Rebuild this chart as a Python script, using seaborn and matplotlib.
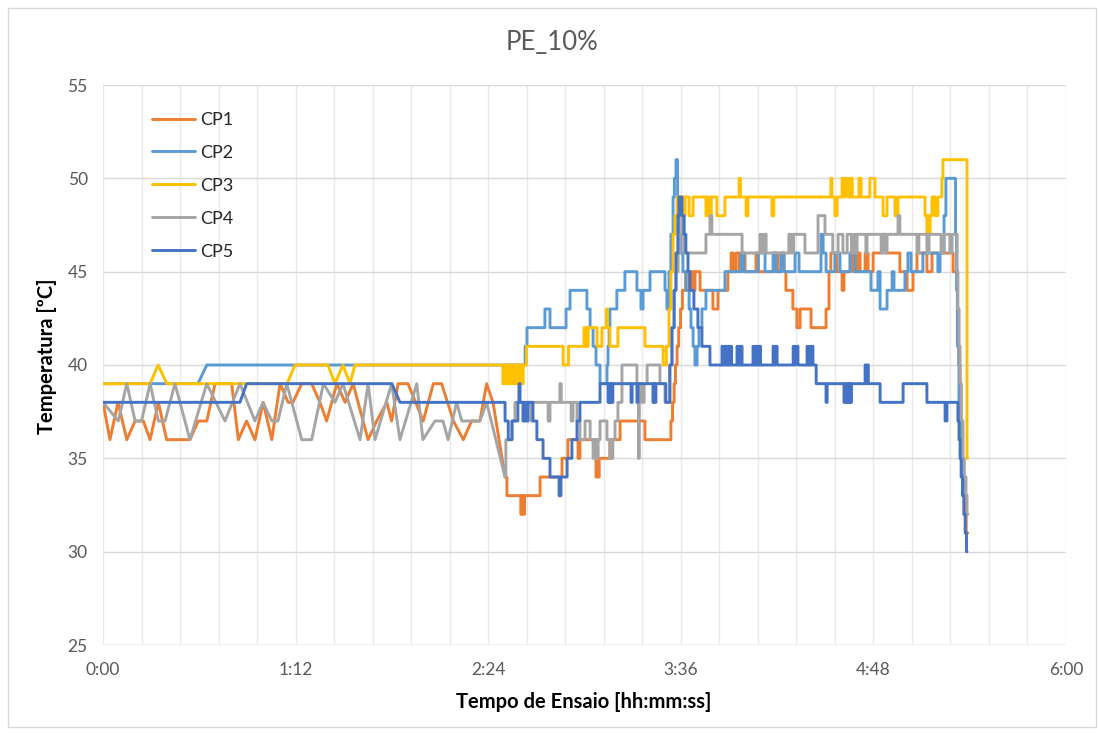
import matplotlib
matplotlib.use("Agg")
import matplotlib.pyplot as plt
from matplotlib.patches import Rectangle
import numpy as np
import seaborn as sns

# ---------------------------------------------------------------
# Data (time in minutes since start of the test, temperature in ºC)
# Slow-logging phase: vertices joined by straight lines
# Fast-logging phase: (time, value) change points drawn as steps
# ---------------------------------------------------------------
series_names = ["CP1", "CP2", "CP3", "CP4", "CP5"]
series_colors = ["#ED7D31", "#5B9BD5", "#FFC000", "#A5A5A5", "#4472C4"]

x_tick_minutes = [0, 72, 144, 216, 288, 360]
x_tick_labels = ["0:00", "1:12", "2:24", "3:36", "4:48", "6:00"]
y_ticks = [25, 30, 35, 40, 45, 50, 55]

cp1_slow = [(0, 38), (2.6, 36), (5.6, 38), (8.9, 36), (12.0, 37), (15.1, 37), (17.6, 36),
            (20.7, 38), (23.8, 36), (32.5, 36), (35.6, 37), (38.8, 37), (41.9, 39), (48.1, 39),
            (50.6, 36), (53.7, 37), (56.8, 36), (59.9, 38), (63.1, 36), (66.2, 39), (69.2, 38),
            (71.0, 38), (74.3, 39), (78.0, 39), (81.1, 38), (83.6, 37), (87.4, 39), (90.5, 38),
            (93.5, 39), (99.1, 36), (102.3, 37), (106.1, 38), (107.9, 37), (110.3, 39), (114.0, 39),
            (119.7, 37), (123.5, 39), (126.6, 39), (131.0, 37), (134.7, 36), (137.8, 37), (140.9, 37),
            (143.4, 39), (145.8, 38), (150.3, 34)]
cp1_fast = [(150.3, 34), (151.0, 33), (156.2, 32), (156.6, 33), (157.2, 32), (157.6, 33), (163.4, 34),
            (171.6, 35), (173.8, 36), (177.6, 35), (178.3, 36), (183.9, 35), (184.3, 34), (184.7, 35),
            (185.1, 34), (185.5, 35), (189.5, 36), (193.3, 37), (202.6, 36), (212.3, 37), (212.9, 38),
            (213.5, 39), (214.0, 40), (214.6, 41), (215.2, 42), (215.9, 43), (216.6, 44), (217.8, 45),
            (219.1, 44), (219.8, 45), (220.6, 44), (221.3, 45), (223.2, 44), (228.0, 43), (229.9, 44),
            (233.6, 45), (234.8, 46), (235.5, 45), (236.6, 46), (237.8, 45), (238.9, 46), (240.0, 45),
            (244.1, 46), (244.9, 45), (251.2, 46), (252.3, 45), (253.5, 46), (254.6, 45), (255.3, 44),
            (257.9, 43), (259.4, 42), (260.6, 43), (264.7, 42), (270.3, 43), (271.4, 45), (272.1, 46),
            (274.4, 45), (276.3, 44), (277.0, 45), (279.3, 46), (280.4, 45), (281.9, 46), (283.0, 45),
            (284.9, 46), (286.0, 45), (287.9, 46), (291.2, 47), (292.7, 46), (297.9, 45), (300.6, 44),
            (302.8, 45), (304.3, 46), (308.0, 45), (309.9, 46), (317.8, 45), (319.4, 43), (319.9, 40),
            (320.4, 37), (320.9, 35), (321.5, 33), (322.1, 32), (322.7, 31), (323.3, 31)]

cp2_slow = [(0, 39), (35.5, 39), (38.8, 40), (148.4, 40)]
cp2_fast = [(148.4, 40), (157.8, 41), (158.5, 42), (165.2, 43), (167.1, 42), (173.1, 43), (174.6, 44),
            (180.9, 43), (182.1, 42), (183.2, 41), (184.3, 40), (185.8, 39), (188.4, 40), (188.8, 41),
            (189.2, 42), (189.5, 43), (192.1, 44), (195.1, 45), (199.6, 44), (201.1, 43), (201.9, 44),
            (204.5, 45), (210.1, 44), (210.8, 43), (211.6, 45), (212.3, 47), (213.1, 49), (213.6, 50),
            (214.2, 51), (214.8, 49), (215.3, 47), (216.1, 46), (216.8, 45), (218.0, 44), (219.1, 43),
            (219.8, 42), (220.6, 41), (221.3, 40), (222.1, 41), (222.8, 42), (223.9, 43), (225.4, 44),
            (232.5, 45), (238.5, 46), (239.6, 45), (245.0, 46), (247.5, 45), (250.5, 46), (251.6, 45),
            (253.5, 46), (254.6, 45), (258.7, 46), (260.2, 45), (268.4, 47), (269.2, 46), (270.3, 45),
            (273.6, 46), (275.5, 45), (279.3, 46), (281.1, 45), (287.1, 44), (289.7, 45), (290.5, 43),
            (293.1, 44), (295.0, 45), (295.7, 44), (299.8, 45), (300.9, 46), (302.1, 45), (306.5, 46),
            (312.1, 45), (312.9, 46), (314.4, 48), (315.1, 50), (318.7, 47), (319.1, 44), (319.4, 41),
            (320.0, 38), (320.6, 36), (321.1, 34), (321.9, 33), (322.4, 33)]

cp3_slow = [(0, 39), (17.6, 39), (20.6, 40), (23.9, 39), (68.8, 39), (71.8, 40), (84.1, 40),
            (86.7, 39), (89.7, 40), (92.3, 39), (94.2, 40), (149.5, 40)]
cp3_fast = [(149.5, 39), (149.9, 40), (150.4, 39), (150.8, 40), (151.3, 39), (151.7, 40), (152.2, 39),
            (152.6, 40), (153.1, 39), (153.5, 40), (154.0, 39), (154.4, 40), (154.9, 39), (155.3, 40),
            (155.8, 39), (156.2, 40), (156.7, 39), (157.1, 40), (158.3, 41), (172.0, 40), (174.0, 41),
            (179.8, 42), (180.2, 41), (180.6, 42), (181.0, 41), (181.4, 42), (184.7, 41), (186.5, 42),
            (188.2, 43), (188.6, 42), (189.5, 41), (192.5, 42), (202.6, 41), (209.4, 40), (210.6, 41),
            (211.6, 43), (212.3, 45), (213.1, 47), (213.8, 48), (214.6, 49), (216.4, 48), (216.8, 49),
            (217.2, 48), (217.6, 49), (219.1, 48), (220.6, 49), (225.4, 48), (225.8, 49), (226.2, 48),
            (226.6, 49), (227.0, 48), (227.4, 49), (229.5, 48), (232.5, 49), (237.8, 50), (238.3, 49),
            (240.4, 48), (241.1, 49), (250.1, 48), (250.8, 49), (272.1, 50), (272.5, 49), (273.6, 48),
            (274.4, 49), (276.3, 50), (276.8, 49), (277.4, 50), (278.5, 49), (279.3, 50), (280.1, 49),
            (282.6, 50), (283.4, 49), (286.7, 50), (288.6, 49), (291.6, 48), (293.1, 49), (296.1, 48),
            (297.2, 49), (307.3, 48), (308.0, 47), (308.4, 48), (308.8, 47), (309.2, 48), (309.9, 49),
            (311.0, 48), (312.1, 49), (313.6, 50), (314.0, 51), (323.0, 35), (323.2, 35)]

cp4_slow = [(0, 38), (5.7, 37), (8.9, 39), (12.0, 37), (14.4, 37), (17.6, 39), (20.7, 37), (23.2, 37),
            (26.9, 39), (32.5, 36), (38.8, 39), (45.6, 37), (51.2, 39), (56.8, 37), (59.8, 38),
            (63.1, 37), (65.4, 37), (68.7, 39), (74.3, 36), (78.0, 36), (82.4, 39), (86.7, 38),
            (89.7, 39), (96.1, 36), (99.1, 39), (101.7, 36), (107.9, 39), (111.0, 36), (117.3, 39),
            (119.6, 36), (124.1, 37), (127.1, 37), (129.0, 36), (132.2, 38), (134.1, 37), (137.2, 37),
            (140.9, 37), (143.4, 38), (150.3, 34)]
cp4_fast = [(150.3, 34), (150.6, 36), (152.9, 37), (154.0, 38), (160.0, 37), (160.7, 38), (166.4, 37),
            (167.1, 38), (170.8, 39), (171.3, 38), (175.0, 37), (175.7, 38), (177.2, 37), (178.3, 36),
            (180.2, 37), (182.1, 36), (183.2, 35), (183.6, 36), (184.0, 35), (184.3, 36), (184.7, 35),
            (185.1, 36), (185.8, 37), (188.4, 36), (189.5, 35), (189.9, 36), (190.3, 35), (190.6, 36),
            (191.4, 37), (192.5, 38), (194.0, 40), (199.6, 39), (200.2, 35), (200.5, 39), (201.5, 38),
            (202.3, 39), (203.4, 40), (208.2, 39), (210.1, 38), (211.9, 40), (212.7, 42), (213.5, 44),
            (214.2, 45), (215.0, 46), (215.7, 47), (216.4, 48), (217.2, 46), (225.4, 47), (226.9, 48),
            (227.6, 47), (238.9, 46), (245.6, 47), (246.4, 46), (247.1, 47), (247.9, 46), (256.4, 47),
            (256.8, 46), (257.3, 47), (257.7, 46), (258.2, 47), (262.4, 46), (267.3, 48), (269.9, 47),
            (272.8, 46), (274.8, 47), (276.6, 46), (278.2, 47), (279.8, 46), (280.6, 47), (281.3, 46),
            (281.9, 47), (285.2, 46), (285.6, 47), (290.9, 46), (291.6, 47), (292.3, 46), (293.1, 47),
            (297.2, 48), (297.9, 47), (304.3, 46), (305.0, 47), (308.0, 46), (308.8, 47), (313.3, 46),
            (314.4, 47), (316.6, 46), (317.4, 47), (319.3, 45), (319.6, 43), (320.0, 41), (320.4, 39),
            (320.9, 37), (321.5, 35), (322.0, 34), (322.6, 33), (323.0, 32), (323.3, 32)]

cp5_slow = [(0, 38), (51.2, 38), (53.7, 39), (108.0, 39), (111.0, 38), (144.7, 38)]
cp5_fast = [(144.7, 38), (150.3, 37), (151.5, 36), (152.9, 37), (155.1, 38), (155.5, 39), (155.9, 38),
            (157.0, 37), (157.4, 38), (157.8, 37), (158.1, 38), (158.5, 37), (158.9, 38), (160.7, 37),
            (162.2, 36), (164.5, 35), (167.1, 34), (170.5, 33), (171.2, 34), (173.5, 35), (175.3, 36),
            (177.2, 37), (178.3, 38), (185.8, 39), (188.8, 38), (189.2, 39), (189.5, 38), (189.9, 39),
            (190.3, 38), (190.6, 39), (197.4, 38), (197.8, 39), (199.6, 38), (200.0, 39), (205.6, 38),
            (206.0, 39), (206.4, 38), (206.7, 39), (210.4, 38), (211.9, 40), (212.7, 42), (213.5, 44),
            (214.2, 46), (214.9, 48), (215.3, 49), (216.4, 48), (217.2, 47), (217.9, 46), (218.7, 45),
            (219.4, 44), (220.9, 43), (222.4, 42), (223.9, 41), (226.9, 40), (231.4, 41), (231.8, 40),
            (232.2, 41), (232.6, 40), (233.0, 41), (233.4, 40), (233.8, 41), (234.2, 40), (234.6, 41),
            (235.0, 40), (237.0, 41), (237.4, 40), (237.8, 41), (238.2, 40), (238.6, 41), (238.9, 40),
            (243.0, 41), (243.4, 40), (243.8, 41), (244.2, 40), (244.6, 41), (245.0, 40), (245.4, 41),
            (245.8, 40), (250.5, 41), (250.9, 40), (251.3, 41), (252.0, 40), (258.0, 41), (258.4, 40),
            (258.8, 41), (259.8, 40), (263.2, 41), (263.6, 40), (264.0, 41), (264.4, 40), (264.8, 41),
            (265.4, 40), (266.6, 39), (270.3, 38), (270.7, 39), (277.0, 38), (277.4, 39), (277.8, 38),
            (278.2, 39), (278.6, 38), (279.0, 39), (279.4, 38), (279.8, 39), (284.9, 40), (285.3, 39),
            (285.7, 40), (286.1, 39), (286.5, 39), (290.5, 38), (299.1, 39), (308.0, 38), (314.8, 37),
            (315.5, 38), (319.6, 37), (320.0, 36), (320.4, 35), (320.8, 34), (321.3, 33), (321.8, 32),
            (322.3, 31), (322.8, 30), (323.0, 30)]

slow_parts = [cp1_slow, cp2_slow, cp3_slow, cp4_slow, cp5_slow]
fast_parts = [cp1_fast, cp2_fast, cp3_fast, cp4_fast, cp5_fast]


def build_path(slow, fast):
    """Straight segments for the slow phase, then a steps-post path for the fast phase."""
    xs = [t for t, _ in slow]
    ys = [v for _, v in slow]
    prev = None
    for t, v in fast:
        if prev is not None:
            xs.append(t)
            ys.append(prev)
        xs.append(t)
        ys.append(v)
        prev = v
    return xs, ys


# ---------------------------------------------------------------
# Figure
# ---------------------------------------------------------------
sns.set_theme(style="white")
plt.rcParams["font.family"] = ["Lato", "DejaVu Sans"]

W, H = 1099, 733
fig = plt.figure(figsize=(W / 100, H / 100), dpi=100)
fig.patch.set_facecolor("white")
ax = fig.add_axes([103 / W, 1 - 645 / H, 963 / W, 560 / H])

for name, color, slow, fast in zip(series_names, series_colors, slow_parts, fast_parts):
    xs, ys = build_path(slow, fast)
    sns.lineplot(x=xs, y=ys, sort=False, estimator=None, color=color,
                 linewidth=2.1, label=name, ax=ax)

ax.set_xlim(0, 360)
ax.set_ylim(25, 55)
ax.set_xticks(x_tick_minutes)
ax.set_xticklabels(x_tick_labels)
ax.set_xticks(np.arange(0, 360.1, 14.4), minor=True)
ax.set_yticks(y_ticks)

ax.set_axisbelow(True)
ax.xaxis.grid(True, which="both", color="#e9e9e9", linewidth=1.0)
ax.yaxis.grid(True, which="major", color="#d9d9d9", linewidth=1.0)
for side in ["top", "right", "left", "bottom"]:
    ax.spines[side].set_visible(False)
ax.axhline(25, color="#d0d0d0", linewidth=1.0, zorder=0.5)

ax.tick_params(axis="both", which="both", length=0, labelsize=12.5, colors="#595959")
ax.tick_params(axis="x", pad=12)
ax.tick_params(axis="y", pad=11)
ax.set_xlabel("")
ax.set_ylabel("")

leg = ax.legend(loc="upper left", bbox_to_anchor=(0.043, 0.965), frameon=False,
                fontsize=13, handlelength=2.4, handletextpad=0.3, labelspacing=0.94,
                borderaxespad=0.0)
for txt in leg.get_texts():
    txt.set_color("#262626")

fig.text(552 / W, 1 - 43 / H, "PE_10%", ha="center", va="center",
         fontsize=18.5, color="#595959")
fig.text(584 / W, 1 - 702 / H, "Tempo de Ensaio [hh:mm:ss]", ha="center", va="center",
         fontsize=14.5, fontweight="bold", color="black")
fig.text(47 / W, 1 - 356 / H, "Temperatura [ºC]", ha="center", va="center",
         rotation=90, fontsize=14.5, fontweight="bold", color="black")

fig.add_artist(Rectangle((8 / W, 6 / H), 1088 / W, 719 / H, transform=fig.transFigure,
                         fill=False, edgecolor="#d9d9d9", linewidth=1.0))

fig.savefig("out.png", dpi=100, facecolor="white")
